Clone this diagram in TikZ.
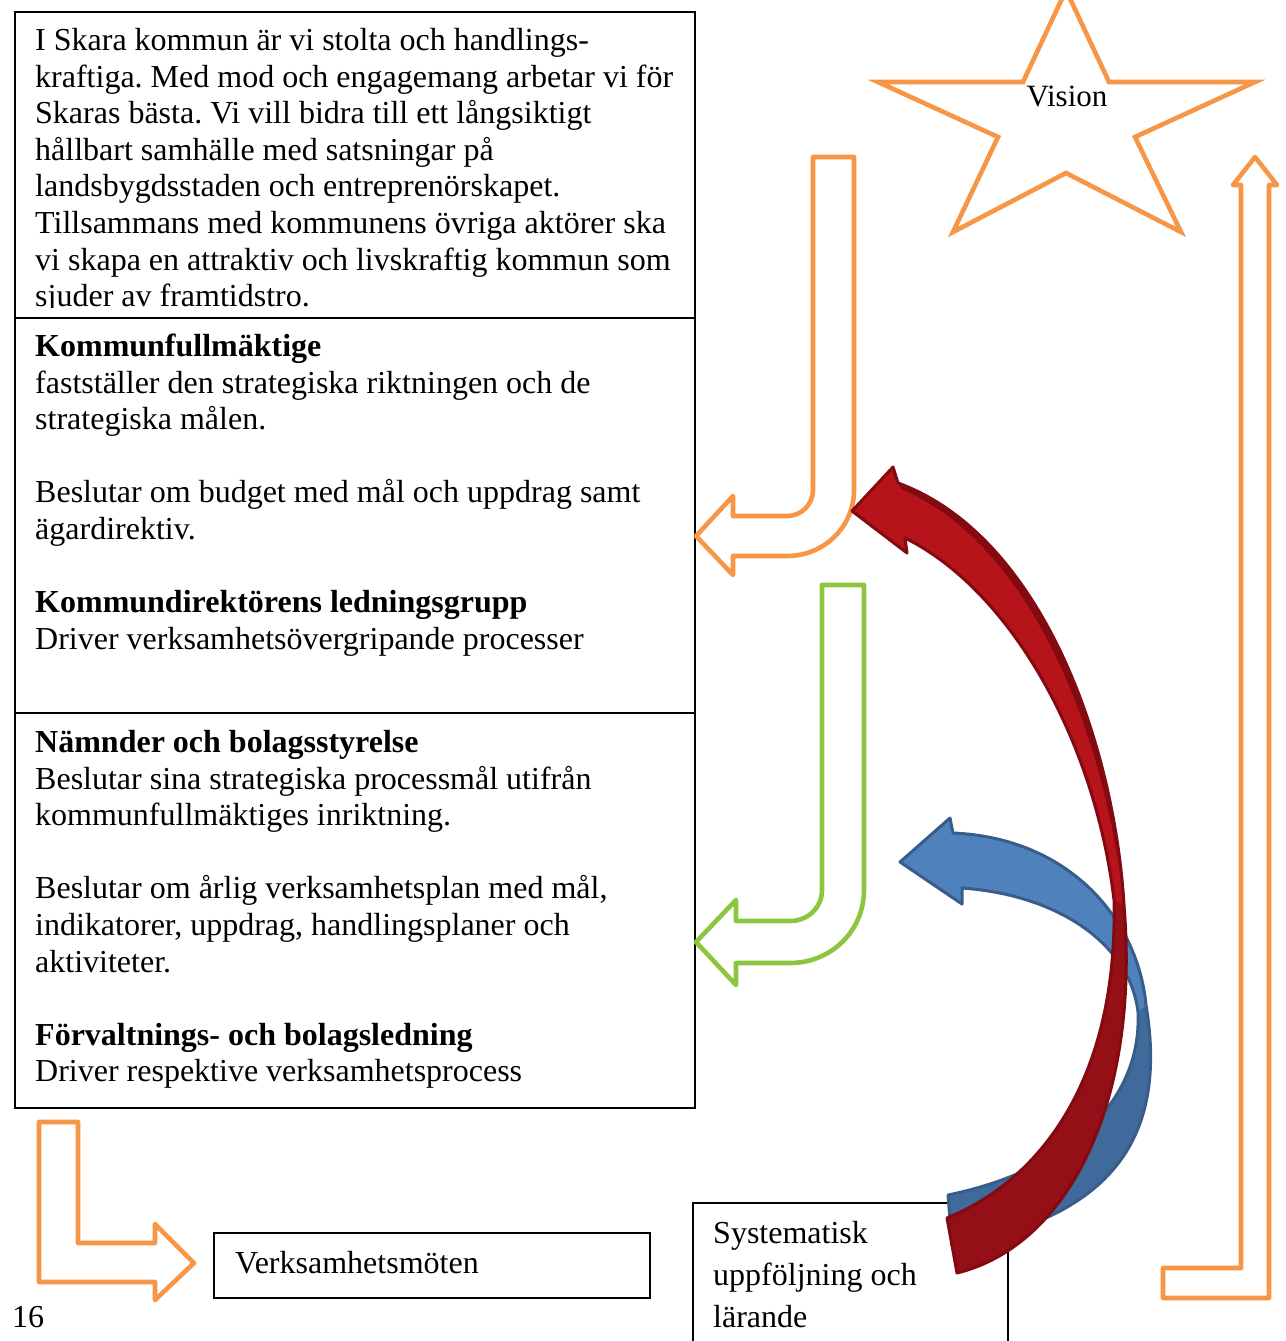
\documentclass[tikz,border=0pt]{standalone}
\usepackage{fontspec}
\setmainfont{Liberation Serif}
\frenchspacing
\definecolor{accOrange}{HTML}{F79646}
\definecolor{accGreen}{HTML}{8CC63F}
\definecolor{redFace}{HTML}{B7131A}
\definecolor{redBack}{HTML}{950F16}
\definecolor{redEdge}{HTML}{820A10}
\definecolor{blueFace}{HTML}{4F81BD}
\definecolor{blueBack}{HTML}{416A9C}
\definecolor{blueEdge}{HTML}{385D8A}
\begin{document}
\begin{tikzpicture}[x=1pt,y=-1pt,
  txt/.style={inner sep=0pt,anchor=base west,font=\fontsize{32pt}{36.6pt}\selectfont},
  btxt/.style={txt,font=\fontsize{32pt}{36.6pt}\selectfont\bfseries},
  frame/.style={draw=black,line width=1.3pt},
  hollow/.style={line width=4.6pt,line join=round},
  ribbonedge/.style={line width=3pt,line join=round}]
\clip (0,0) rectangle (1285,1341);
\fill[white] (0,0) rectangle (1285,1341);

% ---- stacked text panel ----
\draw[frame] (15,12) rectangle (695,1108);
\draw[frame] (15,318) -- (695,318);
\draw[frame] (15,713) -- (695,713);

% the vision statement is cut off at the bottom of its text area
\begin{scope}
\clip (15,12) rectangle (695,307.4);
\node[txt] (v1) at (35,50.5)  {I Skara kommun är vi stolta och handlings-};
\node[txt] (v2) at (35,87.1)  {kraftiga. Med mod och engagemang arbetar vi för};
\node[txt] (v3) at (35,123.7) {Skaras bästa. Vi vill bidra till ett långsiktigt};
\node[txt] (v4) at (35,160.3) {hållbart samhälle med satsningar på};
\node[txt] (v5) at (35,196.9) {landsbygdsstaden och entreprenörskapet.};
\node[txt] (v6) at (35,233.5) {Tillsammans med kommunens övriga aktörer ska};
\node[txt] (v7) at (35,270.1) {vi skapa en attraktiv och livskraftig kommun som};
\node[txt] (v8) at (35,306.7) {sjuder av framtidstro.};
\end{scope}

\node[btxt] (k1) at (35,356.5) {Kommunfullmäktige};
\node[txt]  (k2) at (35,393.1) {fastställer den strategiska riktningen och de};
\node[txt]  (k3) at (35,429.7) {strategiska målen.};
\node[txt]  (k4) at (35,502.9) {Beslutar om budget med mål och uppdrag samt};
\node[txt]  (k5) at (35,539.5) {ägardirektiv.};
\node[btxt] (k6) at (35,612.7) {Kommundirektörens ledningsgrupp};
\node[txt]  (k7) at (35,649.3) {Driver verksamhetsövergripande processer};

\node[btxt] (n1) at (35,752.5)  {Nämnder och bolagsstyrelse};
\node[txt]  (n2) at (35,789.1)  {Beslutar sina strategiska processmål utifrån};
\node[txt]  (n3) at (35,825.7)  {kommunfullmäktiges inriktning.};
\node[txt]  (n4) at (35,898.9)  {Beslutar om årlig verksamhetsplan med mål,};
\node[txt]  (n5) at (35,935.5)  {indikatorer, uppdrag, handlingsplaner och};
\node[txt]  (n6) at (35,972.1)  {aktiviteter.};
\node[btxt] (n7) at (35,1045.3) {Förvaltnings- och bolagsledning};
\node[txt]  (n8) at (35,1081.9) {Driver respektive verksamhetsprocess};

% ---- bottom boxes ----
\draw[frame] (214,1233) rectangle (650,1298);
\node[txt] (mote) at (235,1273) {Verksamhetsmöten};
\node[txt] (sida) at (12,1327) {16};

\draw[frame] (693,1380) -- (693,1203) -- (1008,1203) -- (1008,1380);
\node[txt] (sy1) at (713,1243) {Systematisk};
\node[txt] (sy2) at (713,1285) {uppföljning och};
\node[txt] (sy3) at (713,1327) {lärande};

% ---- bent block arrows ----
\draw[hollow,accOrange] (813,157) -- (854,157) -- (854,490)
  .. controls (854,527) and (824,556) .. (787,556)
  -- (733,556) -- (733,575) -- (696,536) -- (733,496) -- (733,516) -- (787,516)
  .. controls (801.4,516) and (813,504.4) .. (813,490) -- cycle;

\draw[hollow,accGreen] (822,585) -- (864,585) -- (864,890)
  .. controls (864,931) and (831,963) .. (790,963)
  -- (736,963) -- (736,985) -- (696,942) -- (736,900) -- (736,921) -- (790,921)
  .. controls (807.7,921) and (822,907.7) .. (822,890) -- cycle;

\draw[hollow,accOrange] (39,1122) -- (78,1122) -- (78,1243) -- (155,1243)
  -- (155,1224) -- (194,1263) -- (155,1300) -- (155,1282) -- (39,1282) -- cycle;

\draw[hollow,accOrange] (1163,1268) -- (1241,1268) -- (1241,185) -- (1233,185)
  -- (1255,157) -- (1277,185) -- (1269,185) -- (1269,1298) -- (1163,1298) -- cycle;

% ---- star ----
\draw[hollow,accOrange,line join=miter] (1066,-10) -- (1109,82) -- (1255,82) -- (1135,137)
  -- (1181,232) -- (1066,173) -- (953,232) -- (998,137) -- (878,82) -- (1023,82) -- cycle;
\node[inner sep=0pt,anchor=base,font=\fontsize{31pt}{36pt}\selectfont] (vision) at (1067,106) {Vision};

% ---- blue curved arrow ----
\fill[blueBack] (900,862) -- (950,818) -- (953,833)
  .. controls (1070,838) and (1138,920) .. (1146,1005)
  .. controls (1165,1120) and (1130,1215) .. (952,1245)
  -- (948,1195)
  .. controls (1070,1170) and (1142,1100) .. (1138,1012)
  .. controls (1130,945) and (1060,895) .. (962,888)
  -- (962,904) -- cycle;
\fill[blueFace] (900,862) -- (950,818) -- (953,833)
  .. controls (1070,838) and (1138,920) .. (1146,1005)
  -- (1138,1012)
  .. controls (1130,945) and (1060,895) .. (962,888)
  -- (962,904) -- cycle;
\draw[ribbonedge,blueEdge] (900,862) -- (950,818) -- (953,833)
  .. controls (1070,838) and (1138,920) .. (1146,1005)
  .. controls (1165,1120) and (1130,1215) .. (952,1245)
  -- (948,1195)
  .. controls (1070,1170) and (1142,1100) .. (1138,1012)
  .. controls (1130,945) and (1060,895) .. (962,888)
  -- (962,904) -- cycle;

% ---- red curved arrow ----
\fill[redBack] (852,511) -- (893,467) -- (898,483)
  .. controls (1040,535) and (1114,740) .. (1124,905)
  .. controls (1140,1100) and (1070,1245) .. (957,1273)
  -- (947,1218)
  .. controls (1040,1180) and (1118,1080) .. (1114,900)
  .. controls (1095,740) and (1010,590) .. (905,538)
  -- (907,553) -- cycle;
\fill[redFace] (852,511) -- (893,467) -- (898,483)
  .. controls (1040,535) and (1114,740) .. (1124,905)
  -- (1114,900)
  .. controls (1095,740) and (1010,590) .. (905,538)
  -- (907,553) -- cycle;
\fill[redEdge] (898,483) .. controls (1040,535) and (1114,740) .. (1124,905)
  .. controls (1107,745) and (1036,546) .. (901,489) -- cycle;
\draw[ribbonedge,redEdge] (852,511) -- (893,467) -- (898,483)
  .. controls (1040,535) and (1114,740) .. (1124,905)
  .. controls (1140,1100) and (1070,1245) .. (957,1273)
  -- (947,1218)
  .. controls (1040,1180) and (1118,1080) .. (1114,900)
  .. controls (1095,740) and (1010,590) .. (905,538)
  -- (907,553) -- cycle;
\end{tikzpicture}
\end{document}
